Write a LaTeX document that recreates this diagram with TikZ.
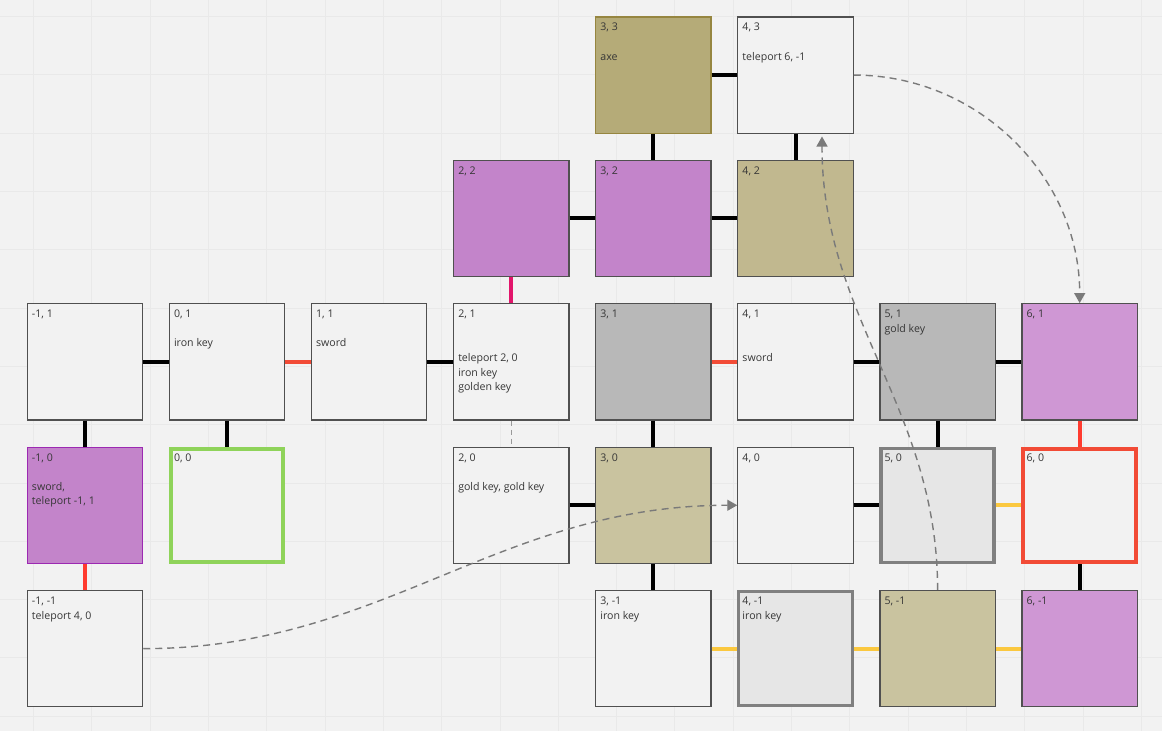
\documentclass[tikz,border=0pt]{standalone}
\usepackage{fontspec}
\setmainfont{Open Sans}
\usetikzlibrary{arrows.meta}
\definecolor{bg}{HTML}{F2F2F2}
\definecolor{gridc}{HTML}{E9E9E9}
\definecolor{bdr}{HTML}{505050}
\definecolor{txt}{HTML}{363636}
\definecolor{purA}{HTML}{C384CA}
\definecolor{purB}{HTML}{CF97D4}
\definecolor{purEdge}{HTML}{9C29B2}
\definecolor{oliveA}{HTML}{B5AB78}
\definecolor{oliveEdge}{HTML}{968640}
\definecolor{oliveB}{HTML}{C1B88F}
\definecolor{oliveC}{HTML}{C9C39F}
\definecolor{grayA}{HTML}{B8B8B8}
\definecolor{grayB}{HTML}{E6E6E6}
\definecolor{grayEdge}{HTML}{808080}
\definecolor{greenEdge}{HTML}{8FD35A}
\definecolor{redA}{HTML}{F24B36}
\definecolor{redB}{HTML}{FF3B2F}
\definecolor{pinkA}{HTML}{E2156B}
\definecolor{yel}{HTML}{FBC83F}
\definecolor{dashc}{HTML}{7A7A7A}
\newcommand\roomtext[1]{\parbox[t]{108pt}{\raggedright #1}}
\begin{document}
\begin{tikzpicture}[x=1pt,y=-1pt,
  roombox/.style={draw=bdr, fill=bg, line width=1.2pt, minimum width=115.3pt, minimum height=116.3pt, inner sep=0pt},
  heavy/.style={line width=#1, minimum width={116.5pt-#1}, minimum height={117.5pt-#1}},
  lbl/.style={inner sep=0pt, anchor=base west, text=txt, font=\fontsize{10.6pt}{14.6pt}\selectfont},
  link/.style={line width=4pt},
  gridline/.style={draw=gridc, line width=0.8pt},
  tele/.style={draw=dashc, line width=1.4pt, dash pattern=on 7pt off 5pt, -{Triangle[length=10pt,width=11pt]}},
  faint/.style={draw=gray!80, line width=1.2pt, dash pattern=on 5pt off 4pt}
]
\fill[bg] (0,0) rectangle (1162,731);
\useasboundingbox (0,0) rectangle (1162,731);
\foreach \i in {0,...,19} \draw[gridline] ({33.5+58.3*\i},0) -- ({33.5+58.3*\i},731);
\foreach \j in {0,...,12} \draw[gridline] (0,{16.5+58.3*\j}) -- (1162,{16.5+58.3*\j});

% row 3
\node[roombox, fill=oliveA, draw=oliveEdge] (c33) at (653.4,75.05) {};
\node[roombox] (c43) at (795.5,75.05) {};
% row 2
\node[roombox, fill=purA] (c22) at (511.3,218.45) {};
\node[roombox, fill=purA] (c32) at (653.4,218.45) {};
\node[roombox, fill=oliveB] (c42) at (795.5,218.45) {};
% row 1
\node[roombox] (cm11) at (85.0,361.85) {};
\node[roombox] (c01) at (227.1,361.85) {};
\node[roombox] (c11) at (369.2,361.85) {};
\node[roombox] (c21) at (511.3,361.85) {};
\node[roombox, fill=grayA] (c31) at (653.4,361.85) {};
\node[roombox] (c41) at (795.5,361.85) {};
\node[roombox, fill=grayA] (c51) at (937.6,361.85) {};
\node[roombox, fill=purB] (c61) at (1079.7,361.85) {};
% row 0
\node[roombox, fill=purA, draw=purEdge] (cm10) at (85.0,505.25) {};
\node[roombox, draw=greenEdge, heavy=4pt] (c00) at (227.1,505.25) {};
\node[roombox] (c20) at (511.3,505.25) {};
\node[roombox, fill=oliveC] (c30) at (653.4,505.25) {};
\node[roombox] (c40) at (795.5,505.25) {};
\node[roombox, fill=grayB, draw=grayEdge, heavy=3.5pt] (c50) at (937.6,505.25) {};
\node[roombox, draw=redA, heavy=4pt] (c60) at (1079.7,505.25) {};
% row -1
\node[roombox] (cm1m1) at (85.0,648.65) {};
\node[roombox] (c3m1) at (653.4,648.65) {};
\node[roombox, fill=grayB, draw=grayEdge, heavy=3pt] (c4m1) at (795.5,648.65) {};
\node[roombox, fill=oliveC] (c5m1) at (937.6,648.65) {};
\node[roombox, fill=purB] (c6m1) at (1079.7,648.65) {};

% texts
\node[lbl] (t33) at ([xshift=5pt,yshift=-14.6pt]c33.north west) {\roomtext{3, 3\\~\\axe}};
\node[lbl] (t43) at ([xshift=5pt,yshift=-14.6pt]c43.north west) {\roomtext{4, 3\\~\\teleport 6, -1}};
\node[lbl] (t22) at ([xshift=5pt,yshift=-14.6pt]c22.north west) {\roomtext{2, 2}};
\node[lbl] (t32) at ([xshift=5pt,yshift=-14.6pt]c32.north west) {\roomtext{3, 2}};
\node[lbl] (t42) at ([xshift=5pt,yshift=-14.6pt]c42.north west) {\roomtext{4, 2}};
\node[lbl] (tm11) at ([xshift=5pt,yshift=-14.6pt]cm11.north west) {\roomtext{-1, 1}};
\node[lbl] (t01) at ([xshift=5pt,yshift=-14.6pt]c01.north west) {\roomtext{0, 1\\~\\iron key}};
\node[lbl] (t11) at ([xshift=5pt,yshift=-14.6pt]c11.north west) {\roomtext{1, 1\\~\\sword}};
\node[lbl] (t21) at ([xshift=5pt,yshift=-14.6pt]c21.north west) {\roomtext{2, 1\\~\\~\\teleport 2, 0\\iron key\\golden key}};
\node[lbl] (t31) at ([xshift=5pt,yshift=-14.6pt]c31.north west) {\roomtext{3, 1}};
\node[lbl] (t41) at ([xshift=5pt,yshift=-14.6pt]c41.north west) {\roomtext{4, 1\\~\\~\\sword}};
\node[lbl] (t51) at ([xshift=5pt,yshift=-14.6pt]c51.north west) {\roomtext{5, 1\\gold key}};
\node[lbl] (t61) at ([xshift=5pt,yshift=-14.6pt]c61.north west) {\roomtext{6, 1}};
\node[lbl] (tm10) at ([xshift=5pt,yshift=-14.6pt]cm10.north west) {\roomtext{-1, 0\\~\\sword,\\teleport -1, 1}};
\node[lbl] (t00) at ([xshift=5pt,yshift=-14.6pt]c00.north west) {\roomtext{0, 0}};
\node[lbl] (t20) at ([xshift=5pt,yshift=-14.6pt]c20.north west) {\roomtext{2, 0\\~\\gold key, gold key}};
\node[lbl] (t30) at ([xshift=5pt,yshift=-14.6pt]c30.north west) {\roomtext{3, 0}};
\node[lbl] (t40) at ([xshift=5pt,yshift=-14.6pt]c40.north west) {\roomtext{4, 0}};
\node[lbl] (t50) at ([xshift=5pt,yshift=-14.6pt]c50.north west) {\roomtext{5, 0}};
\node[lbl] (t60) at ([xshift=5pt,yshift=-14.6pt]c60.north west) {\roomtext{6, 0}};
\node[lbl] (tm1m1) at ([xshift=5pt,yshift=-14.6pt]cm1m1.north west) {\roomtext{-1, -1\\teleport 4, 0}};
\node[lbl] (t3m1) at ([xshift=5pt,yshift=-14.6pt]c3m1.north west) {\roomtext{3, -1\\iron key}};
\node[lbl] (t4m1) at ([xshift=5pt,yshift=-14.6pt]c4m1.north west) {\roomtext{4, -1\\iron key}};
\node[lbl] (t5m1) at ([xshift=5pt,yshift=-14.6pt]c5m1.north west) {\roomtext{5, -1}};
\node[lbl] (t6m1) at ([xshift=5pt,yshift=-14.6pt]c6m1.north west) {\roomtext{6, -1}};

% connectors
\draw[link] (cm11.east) -- (c01.west);
\draw[link,draw=redA] (c01.east) -- (c11.west);
\draw[link] (c11.east) -- (c21.west);
\draw[link] (cm11.south) -- (cm10.north);
\draw[link] (c01.south) -- (c00.north);
\draw[link,draw=redB] (cm10.south) -- (cm1m1.north);
\draw[link] (c33.east) -- (c43.west);
\draw[link] (c33.south) -- (c32.north);
\draw[link] (c43.south) -- (c42.north);
\draw[link] (c22.east) -- (c32.west);
\draw[link] (c32.east) -- (c42.west);
\draw[link,draw=pinkA] (c22.south) -- (c21.north);
\draw[link,draw=redA] (c31.east) -- (c41.west);
\draw[link] (c41.east) -- (c51.west);
\draw[link] (c51.east) -- (c61.west);
\draw[link] (c31.south) -- (c30.north);
\draw[link] (c51.south) -- (c50.north);
\draw[link,draw=redB] (c61.south) -- (c60.north);
\draw[link] (c20.east) -- (c30.west);
\draw[link] (c40.east) -- (c50.west);
\draw[link,draw=yel] (c50.east) -- (c60.west);
\draw[link] (c30.south) -- (c3m1.north);
\draw[link] (c60.south) -- (c6m1.north);
\draw[link,draw=yel] (c3m1.east) -- (c4m1.west);
\draw[link,draw=yel] (c4m1.east) -- (c5m1.west);
\draw[link,draw=yel] (c5m1.east) -- (c6m1.west);
\draw[faint] (c21.south) -- (c20.north);

% teleports
\draw[tele] (cm1m1.east) to[out=0,in=180] (c40.west);
\draw[tele] (c43.east) to[out=0,in=90] (c61.north);
\draw[tele] (c5m1.north) to[out=90,in=-90] ([xshift=26.5pt,yshift=-2.7pt]c43.south);
\end{tikzpicture}
\end{document}
